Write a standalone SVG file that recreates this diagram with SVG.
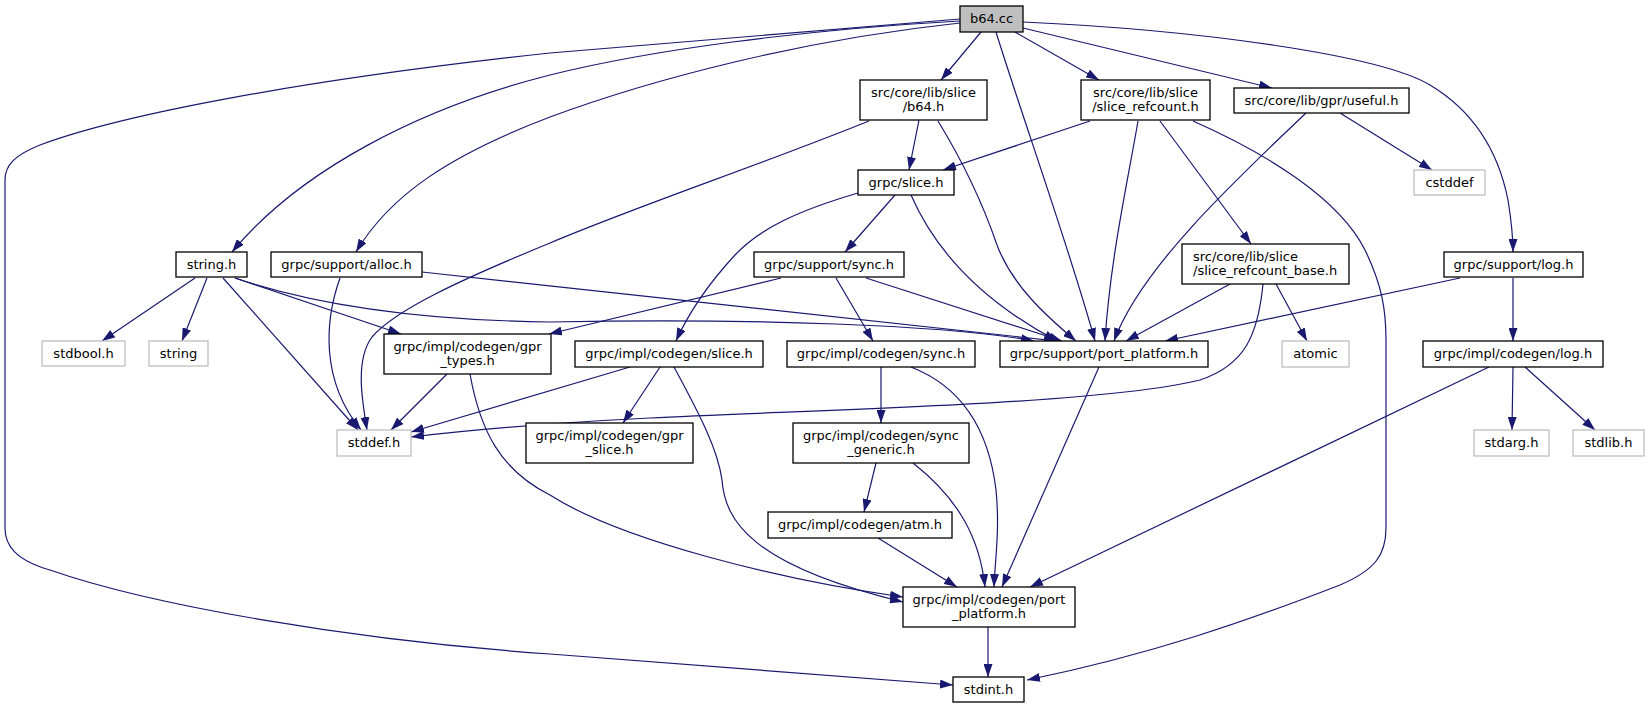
<svg xmlns="http://www.w3.org/2000/svg" width="1650" height="708" viewBox="0 0 1650 708">
<defs>
<marker id="arr" markerUnits="userSpaceOnUse" markerWidth="13" markerHeight="9" refX="13" refY="4.5" orient="auto" viewBox="0 0 13 9"><path d="M0,0 L13,4.5 L0,9 z" fill="#191970"/></marker>
</defs>
<style>
.n rect{fill:#fff;stroke:#000;stroke-width:1.3}
.n.root rect{fill:#bfbfbf}
.n.ext rect{stroke:#bfbfbf}
.n text{font-family:"DejaVu Sans","Liberation Sans",sans-serif;font-size:13px;fill:#000;text-anchor:middle}
.n text.l{text-anchor:start}
#edges path{fill:none;stroke:#191970;stroke-width:1.2;marker-end:url(#arr)}
</style>
<rect width="1650" height="708" fill="#fff"/>
<g id="edges">
<path d="M981,32 L941,80"/>
<path d="M1015,32 L1099,80"/>
<path d="M1023,28 L1272,88"/>
<path d="M1023,22 C1200,30 1380,55 1430,85 C1480,115 1500,160 1508,200 C1512,225 1513,240 1513,252"/>
<path d="M996,32 C1020,110 1070,250 1095,341"/>
<path d="M960,21 C800,30 650,50 550,75 C420,108 300,170 232,252"/>
<path d="M960,23 C800,40 650,80 550,117 C450,155 390,195 356,252"/>
<path d="M960,19 L550,53 C300,80 120,115 40,145 C15,155 5,165 5,180 L5,528 C5,545 15,560 50,570 C150,605 350,640 550,654 L953,685"/>
<path d="M919,120 L909,170"/>
<path d="M869,121 C760,165 640,205 550,243 C460,280 395,310 372,337 C355,360 362,400 367,430"/>
<path d="M938,121 C965,165 985,210 997,245 C1012,285 1045,315 1076,341"/>
<path d="M1090,121 L943,170"/>
<path d="M1138,121 C1128,180 1110,260 1105,341"/>
<path d="M1160,121 L1251,244"/>
<path d="M1193,121 C1270,155 1340,200 1365,250 C1382,285 1386,310 1386,340 L1386,528 C1386,555 1375,570 1340,585 C1250,620 1150,655 1027,680"/>
<path d="M1306,113 C1230,185 1140,270 1114,341"/>
<path d="M1340,113 L1432,170"/>
<path d="M895,195 L845,252"/>
<path d="M858,193 C800,210 760,228 735,255 C710,282 690,310 676,341"/>
<path d="M911,195 C935,250 980,300 1057,341"/>
<path d="M781,278 L549,334"/>
<path d="M836,278 L873,341"/>
<path d="M866,278 L1062,341"/>
<path d="M195,278 L102,341"/>
<path d="M207,278 L182,341"/>
<path d="M223,278 L358,430"/>
<path d="M235,278 L401,334"/>
<path d="M235,278 C300,300 400,320 550,322 C750,318 950,325 1034,341"/>
<path d="M340,278 C325,320 320,380 361,430"/>
<path d="M422,272 L1057,341"/>
<path d="M447,374 L391,430"/>
<path d="M470,374 C480,430 500,470 550,495 C620,540 780,580 903,597"/>
<path d="M630,367 L411,432"/>
<path d="M660,367 L623,423"/>
<path d="M674,367 C700,415 718,450 722,480 C725,520 750,565 903,602"/>
<path d="M881,367 L881,423"/>
<path d="M911,367 C970,390 990,440 996,490 C1000,530 995,560 994,587"/>
<path d="M876,463 L864,512"/>
<path d="M913,463 C960,500 980,540 985,587"/>
<path d="M878,538 L957,587"/>
<path d="M1099,367 L1002,587"/>
<path d="M1489,367 L1030,587"/>
<path d="M988,627 L988,677"/>
<path d="M1230,284 L1126,341"/>
<path d="M1263,284 C1258,335 1245,365 1200,380 C1100,405 800,410 650,418 C550,423 470,430 411,437"/>
<path d="M1276,284 L1307,341"/>
<path d="M1460,278 L1165,341"/>
<path d="M1513,278 L1513,341"/>
<path d="M1513,367 L1512,430"/>
<path d="M1525,367 L1595,430"/>
</g>
<g id="n1" class="n root"><rect x="960" y="6" width="63" height="26"/><text x="991.5" y="23">b64.cc</text></g>
<g id="n2" class="n"><rect x="860" y="80" width="127" height="40"/><text x="923.5" y="97">src/core/lib/slice</text><text x="923.5" y="111">/b64.h</text></g>
<g id="n3" class="n"><rect x="858" y="170" width="96" height="25"/><text x="906" y="187">grpc/slice.h</text></g>
<g id="n4" class="n"><rect x="1081" y="80" width="129" height="40"/><text x="1145.5" y="97">src/core/lib/slice</text><text x="1145.5" y="111">/slice_refcount.h</text></g>
<g id="n5" class="n"><rect x="1234" y="88" width="175" height="25"/><text x="1321.5" y="105">src/core/lib/gpr/useful.h</text></g>
<g id="n6" class="n ext"><rect x="1414" y="170" width="71" height="25"/><text x="1449.5" y="187">cstddef</text></g>
<g id="n7" class="n"><rect x="176" y="252" width="71" height="25"/><text x="211.5" y="269">string.h</text></g>
<g id="n8" class="n"><rect x="271" y="252" width="151" height="25"/><text x="346.5" y="269">grpc/support/alloc.h</text></g>
<g id="n9" class="n ext"><rect x="42" y="341" width="83" height="25"/><text x="83.5" y="358">stdbool.h</text></g>
<g id="n10" class="n ext"><rect x="149" y="341" width="59" height="25"/><text x="178.5" y="358">string</text></g>
<g id="n11" class="n"><rect x="384" y="334" width="167" height="40"/><text x="467.5" y="351">grpc/impl/codegen/gpr</text><text x="467.5" y="365">_types.h</text></g>
<g id="n12" class="n ext"><rect x="337" y="430" width="74" height="26"/><text x="374" y="447">stddef.h</text></g>
<g id="n13" class="n"><rect x="754" y="252" width="150" height="25"/><text x="829" y="269">grpc/support/sync.h</text></g>
<g id="n14" class="n"><rect x="575" y="341" width="188" height="26"/><text x="669" y="358">grpc/impl/codegen/slice.h</text></g>
<g id="n15" class="n"><rect x="787" y="341" width="188" height="26"/><text x="881" y="358">grpc/impl/codegen/sync.h</text></g>
<g id="n16" class="n"><rect x="1000" y="341" width="208" height="26"/><text x="1104" y="358">grpc/support/port_platform.h</text></g>
<g id="n17" class="n"><rect x="526" y="423" width="167" height="40"/><text x="609.5" y="440">grpc/impl/codegen/gpr</text><text x="609.5" y="454">_slice.h</text></g>
<g id="n18" class="n"><rect x="793" y="423" width="176" height="40"/><text x="881" y="440">grpc/impl/codegen/sync</text><text x="881" y="454">_generic.h</text></g>
<g id="n19" class="n"><rect x="768" y="512" width="184" height="26"/><text x="860" y="529">grpc/impl/codegen/atm.h</text></g>
<g id="n20" class="n"><rect x="903" y="587" width="172" height="40"/><text x="989" y="604">grpc/impl/codegen/port</text><text x="989" y="618">_platform.h</text></g>
<g id="n21" class="n"><rect x="953" y="677" width="71" height="25"/><text x="988.5" y="694">stdint.h</text></g>
<g id="n22" class="n"><rect x="1182" y="244" width="167" height="40"/><text class="l" x="1193" y="261">src/core/lib/slice</text><text class="l" x="1193" y="275">/slice_refcount_base.h</text></g>
<g id="n23" class="n ext"><rect x="1282" y="341" width="67" height="26"/><text x="1315.5" y="358">atomic</text></g>
<g id="n24" class="n"><rect x="1444" y="252" width="139" height="25"/><text x="1513.5" y="269">grpc/support/log.h</text></g>
<g id="n25" class="n"><rect x="1423" y="341" width="180" height="26"/><text x="1513" y="358">grpc/impl/codegen/log.h</text></g>
<g id="n26" class="n ext"><rect x="1474" y="430" width="75" height="26"/><text x="1511.5" y="447">stdarg.h</text></g>
<g id="n27" class="n ext"><rect x="1573" y="430" width="71" height="26"/><text x="1608.5" y="447">stdlib.h</text></g>
</svg>
